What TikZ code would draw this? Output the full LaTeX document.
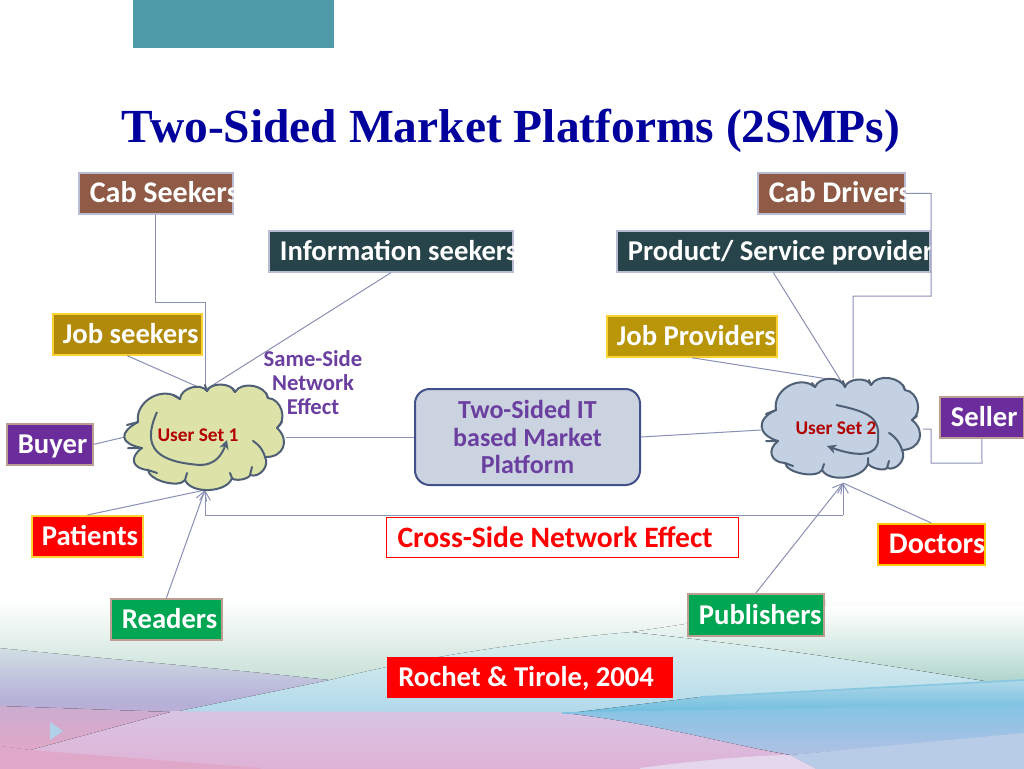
\documentclass[tikz,border=0pt]{standalone}
\usepackage{fontspec}
\setmainfont{Carlito}
\newfontfamily\titlefont{Liberation Serif}
\usetikzlibrary{arrows.meta}
\definecolor{linec}{HTML}{8A8FB5}
\definecolor{cabc}{HTML}{8F5B47}
\definecolor{darkc}{HTML}{26444A}
\definecolor{goldc}{HTML}{B08A08}
\definecolor{purc}{HTML}{6C2D9C}
\definecolor{grnc}{HTML}{00A651}
\definecolor{redc}{HTML}{FF0000}
\definecolor{txtpur}{HTML}{6B3FA0}
\definecolor{cloudl}{HTML}{4F5F75}
\definecolor{blueT}{HTML}{00009C}
\definecolor{bandA}{HTML}{D8EBE6}
\definecolor{bandB}{HTML}{B5B0D8}
\definecolor{bandC}{HTML}{E0A8C8}
\definecolor{bandD}{HTML}{C8E0D8}
\definecolor{bandE}{HTML}{E0F2EE}
\definecolor{bandF}{HTML}{B0D8EA}
\definecolor{bandG}{HTML}{A8D0C8}
\definecolor{bandH}{HTML}{6CBCDC}
\definecolor{bandI}{HTML}{84C4E4}
\definecolor{bandJ}{HTML}{B0C0E4}
\definecolor{bandK}{HTML}{D8C4E4}
\definecolor{bandL}{HTML}{E0B0D4}
\definecolor{bandM}{HTML}{B8CCE8}
\pgfdeclareverticalshading{bgbase}{100bp}{color(0bp)=(bandC);color(25bp)=(bandC);color(45bp)=(bandB);color(65bp)=(bandA);color(75bp)=(white);color(100bp)=(white)}
\pgfdeclareverticalshading{bgright}{100bp}{color(0bp)=(bandG);color(25bp)=(bandG);color(50bp)=(bandA);color(75bp)=(white);color(100bp)=(white)}
\tikzset{
 px/.style={x=0.75pt,y=-0.75pt},
 conn/.style={draw=linec,line width=0.75pt},
 tip/.style={-{Straight Barb[length=7pt,width=8pt]}},
 lbl/.style={font=\bfseries\fontsize{21.5}{25}\selectfont,text=white,inner sep=0pt,anchor=north west,align=left},
 cloudp/.style={draw=cloudl,line width=1.5pt,line join=round},
 tailp/.style={draw=cloudl,line width=1.5pt,line cap=round},
 lobe/.style={bend left=70,looseness=#1},
 inarrow/.style={draw=cloudl,line width=1.5pt,-{Stealth[length=7pt,width=7pt]}},
}
\newcommand{\mybox}[9]{% name, x1,y1,w,h, fill, draw, textpad, text
 \node[lbl,fill=#6,draw=#7,line width=1.3pt,xshift=-0.75pt,yshift=0.75pt,minimum width=#4*0.75pt,minimum height=#5*0.75pt] (#1) at (#2,#3) {\makebox[\dimexpr 75pt*#4/100\relax][l]{\hspace{\dimexpr 75pt*#8/100\relax}\raisebox{0pt}[14pt][0.2pt]{#9}}};}
\newcommand{\bigger}{\fontsize{22.5}{25}\selectfont}
\begin{document}
\begin{tikzpicture}[px]
\useasboundingbox (0,0) rectangle (1024,768);
\fill[white] (0,0) rectangle (1024,768);
% background
\fill[shading=bgbase] (0,600) rectangle (1024,768);
\fill[top color=white,bottom color=bandD] (0,600) -- (825,600) -- (825,606) -- (632,632) -- (330,680) .. controls (240,670) and (120,660) .. (0,648) -- cycle;
\fill[top color=bandE,bottom color=bandF] (330,680) .. controls (430,655) and (540,640) .. (632,632) .. controls (800,650) and (900,668) .. (1024,687) -- (1024,706) -- (562,714) -- (170,713) -- cycle;
\fill[shading=bgright] (632,632) .. controls (700,622) and (760,612) .. (825,606) -- (1024,606) -- (1024,687) .. controls (900,668) and (800,650) .. (632,632) -- cycle;
\fill[top color=bandF,bottom color=bandH] (700,697) -- (1024,680) -- (1024,706) -- (562,714) -- cycle;
\fill[top color=bandI,bottom color=bandJ] (562,713) -- (1024,705) -- (1024,735) -- (790,755) -- cycle;
\fill[top color=bandK,bottom color=bandL] (170,712) -- (562,713) .. controls (650,722) and (730,745) .. (790,755) -- (830,776) -- (0,776) -- (0,745) -- cycle;
\fill[top color=bandB!50!bandC,bottom color=bandC] (0,706) -- (170,712) -- (30,750) -- (0,746) -- cycle;
\fill[bandC] (30,750) -- (260,768) -- (270,776) -- (0,776) -- (0,746) -- cycle;
\fill[bandK!70!white] (640,776) -- (640,768) .. controls (700,760) and (760,755) .. (790,755) -- (830,776) -- cycle;
\fill[bandM] (830,776) -- (790,755) -- (1024,733) -- (1024,776) -- cycle;
% cover the seams along the band edges
\draw[bandK,line width=1.2pt] (170,712) -- (562,713);
\draw[bandI,line width=1.2pt] (562,713) -- (1024,705);
\draw[bandH!60!bandF,line width=1.2pt] (700,697) -- (1024,680);
\fill[bandF!70!bandJ] (50,722) -- (63,731) -- (50,740) -- cycle;
% top bar
\node[inner sep=0pt,minimum width=150.75pt,minimum height=36pt,anchor=north west,fill={rgb,255:red,78;green,154;blue,166}] (bar) at (133,0) {};
% title
\node[font=\titlefont\bfseries\fontsize{35.6}{40}\selectfont,text=blueT,inner sep=0pt] (title) at (511,131) {Two-Sided Market Platforms (2SMPs)};
% connector ends on the clouds
\coordinate (c1top) at (205,390);
\coordinate (c1bot) at (205,490);
\coordinate (c1left) at (125,437);
\coordinate (c1right) at (286,437);
\coordinate (c2top) at (841,381);
\coordinate (c2up) at (853,378);
\coordinate (c2bot) at (843,483);
\coordinate (c2left) at (761,430);
\coordinate (c2right) at (923,429);
% boxes
\mybox{cabs}{79}{173}{154}{41}{cabc}{linec!60!white}{11}{\bigger Cab Seekers}
\mybox{cabd}{758}{173}{147}{41}{cabc}{linec!60!white}{11}{\bigger Cab Drivers}
\mybox{info}{269}{231}{244}{41}{darkc}{linec!60!white}{11}{Information seekers}
\mybox{prod}{617}{231}{313}{41}{darkc}{linec!60!white}{11}{Product/ Service provider}
\mybox{jobs}{53}{314}{149}{41}{goldc}{yellow!60!orange!80!white}{10}{Job seekers}
\mybox{jobp}{607}{316}{170}{41}{goldc!90!yellow}{yellow!60!orange!80!white}{10}{Job Providers}
\mybox{buyer}{7}{424}{86}{41}{purc}{cabc!60!white}{11}{Buyer}
\mybox{seller}{940}{397}{84}{41}{purc}{cabc!60!white}{11}{Seller}
\mybox{pat}{32}{516}{111}{41}{redc}{yellow!60!orange!80!white}{10}{Patients}
\mybox{read}{111}{599}{111}{41}{grnc}{cabc!60!white}{11}{Readers}
\mybox{pub}{688}{594}{136}{42}{grnc}{cabc!60!white}{11}{Publishers}
\mybox{doc}{878}{524}{107}{41}{redc}{yellow!60!orange}{11}{\bigger Doctors}
\node[lbl,fill=redc,minimum width=214.5pt,minimum height=30.75pt] (roch) at (387,657) {\makebox[214.5pt][l]{\hspace{8.25pt}\raisebox{0pt}[14pt][0.2pt]{Rochet \& Tirole, 2004}}};
% connectors
\draw[conn] (cabs.south) |- (205,302) -- (c1top);
\draw[conn] (info.south) -- (c1top);
\draw[conn] (jobs.south) -- (c1top);
\draw[conn] (buyer.east) -- (c1left);
\draw[conn] (jobp.south) -- (c2top);
\draw[conn] (prod.south) -- (c2top);
\draw[conn] (cabd.east) -- (931,193.5) -- (931,296) -- (853,296) -- (c2up);
\draw[conn] (seller.south) -- (982,463) -- (931,463) -- (931,429) -- (c2right);
\draw[conn] (pat.north) -- (c1bot);
\draw[conn,tip] (read.north) -- (c1bot);
\draw[conn,tip] (pub.north) -- (c2bot);
\draw[conn] (doc.north) -- (c2bot);
\draw[conn,tip] (c1bot |- 0,515) -- (c1bot);
\draw[conn,tip] (c2bot |- 0,515) -- (c2bot);
\draw[conn] (c1bot |- 0,515) -- (c2bot |- 0,515);
% cross
\node[draw=redc,fill=white,line width=0.75pt,minimum width=264pt,minimum height=30pt,inner sep=0pt,anchor=north west,font=\bfseries\fontsize{22.2}{25}\selectfont,text=redc] (cross) at (386,517) {\makebox[264pt][l]{\hspace{8.25pt}Cross-Side Network Effect}};
% central
\node[draw=cloudl!85!blue,fill={rgb,255:red,204;green,211;blue,224},line width=1.5pt,rounded corners=11pt,minimum width=168.75pt,minimum height=72pt,inner sep=0pt,align=center,font=\bfseries\fontsize{19.5}{20.5}\selectfont,text=txtpur] (plat) at (527.5,437) {Two-Sided IT\\based Market\\Platform};
\draw[conn] (c1right) -- (c1right -| plat.west);
\draw[conn] (plat.east) -- (c2left);
\node[font=\bfseries\fontsize{17}{18}\selectfont,text=txtpur,align=center,inner sep=0pt] (same) at (313,383) {Same-Side\\Network\\Effect};
% clouds
\draw[cloudp,fill={rgb,255:red,221;green,227;blue,168}] (138,422) to[lobe=1.15] (180,399) to[lobe=1] (207,391) to[lobe=.9] (235,392) to[lobe=1] (268,398) to[lobe=1.1] (277,428) to[lobe=1.5] (265,457) to[lobe=1.1] (250,475) to[lobe=.6] (232,478) to[lobe=.85] (185,480) to[lobe=.7] (148,470) to[lobe=1.8] (142,448) to[lobe=2.2] (138,422) -- cycle;
\draw[tailp] (127,425) -- (138,422) (128,448) -- (142,448) (173,395) -- (180,399) (207,391) -- (205,385) (235,392) -- (232,388) (268,398) -- (266,393) (282,422) -- (277,428) (253,441) to[bend left=20] (265,457) (250,475) -- (252,467) (232,478) -- (230,473) (185,480) -- (187,473) (148,470) -- (157,473);
\draw[cloudp,fill={rgb,255:red,195;green,209;blue,227}] (776,410) to[lobe=1.15] (815,387) to[lobe=1] (845,387) to[lobe=.9] (871,385) to[lobe=1] (905,390) to[lobe=1.1] (912,420) to[lobe=1.5] (902,450) to[lobe=1.1] (887,468) to[lobe=.6] (868,463) to[lobe=.85] (822,470) to[lobe=.7] (785,463) to[lobe=1.6] (778,441) to[lobe=1.8] (776,410) -- cycle;
\draw[tailp] (766,414) -- (776,410) (766,441) -- (778,441) (812,383) -- (815,387) (845,387) -- (843,381) (871,385) -- (869,380) (905,390) -- (903,385) (917,416) -- (912,420) (889,433) to[bend left=20] (902,450) (887,468) -- (889,461) (868,463) -- (868,458) (822,470) -- (824,464) (785,463) -- (793,466);
\draw[inarrow] (157,412) .. controls (140,450) and (160,462) .. (200,465) .. controls (215,465) and (222,455) .. (227,440);
\draw[inarrow] (836,405) .. controls (870,412) and (880,418) .. (878,440) .. controls (878,455) and (860,458) .. (827,446);
\node[font=\bfseries\fontsize{14.5}{15}\selectfont,text=red!70!black,inner sep=0pt] (u1) at (198,435) {User Set 1};
\node[font=\bfseries\fontsize{14.5}{15}\selectfont,text=red!70!black,inner sep=0pt] (u2) at (836,428) {User Set 2};
\end{tikzpicture}
\end{document}
